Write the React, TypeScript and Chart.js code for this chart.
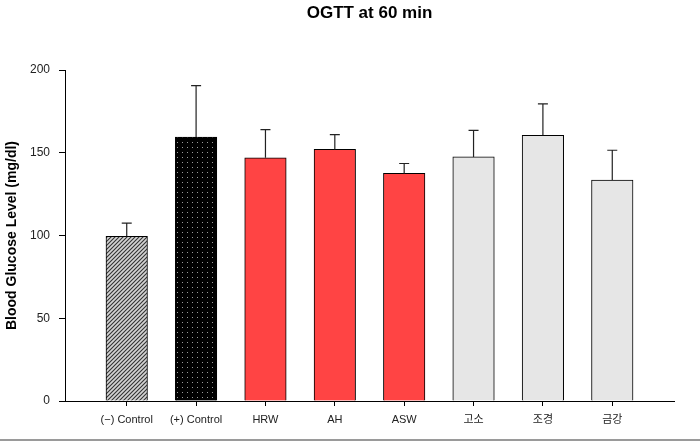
import React, { useEffect, useRef } from "react";
import { Chart, registerables } from "chart.js";

Chart.register(...registerables);

const TITLE = "OGTT at 60 min";
const Y_TITLE = "Blood Glucose Level (mg/dl)";
const CATEGORIES = ["(\u2212) Control", "(+) Control", "HRW", "AH", "ASW", "고소", "조경", "금강"];
const MEANS = [99.5, 159.5, 147, 152, 137.5, 147.5, 160.5, 133.5];
const ERRORS = [8, 31, 17, 9, 6, 16, 19, 18];
const Y_TICKS = [0, 50, 100, 150, 200];
const FILLS = ["hatch", "dots", "#FF4444", "#FF4444", "#FF4444", "#E6E6E6", "#E6E6E6", "#E6E6E6"];

const FONT = "'Liberation Sans', Arial, 'Noto Sans CJK KR', sans-serif";

function makeHatch(): CanvasPattern | string {
  const c = document.createElement("canvas");
  c.width = 4;
  c.height = 4;
  const g = c.getContext("2d");
  if (!g) return "#ccc";
  g.fillStyle = "#d4d4d4";
  g.fillRect(0, 0, 4, 4);
  g.strokeStyle = "#333";
  g.lineWidth = 1.1;
  g.beginPath();
  g.moveTo(-1, 5);
  g.lineTo(5, -1);
  g.moveTo(-1, 1);
  g.lineTo(1, -1);
  g.moveTo(3, 5);
  g.lineTo(5, 3);
  g.stroke();
  return g.createPattern(c, "repeat") || "#ccc";
}

function makeDots(): CanvasPattern | string {
  const c = document.createElement("canvas");
  c.width = 5;
  c.height = 5;
  const g = c.getContext("2d");
  if (!g) return "#000";
  g.fillStyle = "#000";
  g.fillRect(0, 0, 5, 5);
  g.fillStyle = "#9a9a9a";
  g.fillRect(2, 2, 1, 1);
  return g.createPattern(c, "repeat") || "#000";
}

const errorBarPlugin = {
  id: "errorBars",
  afterDatasetsDraw(chart: any) {
    const ctx = chart.ctx;
    const meta = chart.getDatasetMeta(0);
    const yScale = chart.scales.y;
    ctx.save();
    ctx.strokeStyle = "#222";
    ctx.lineWidth = 1.2;
    meta.data.forEach((el: any, i: number) => {
      const x = el.x;
      const yTop = el.y;
      const yCap = yScale.getPixelForValue(MEANS[i] + ERRORS[i]);
      ctx.beginPath();
      ctx.moveTo(x, yTop);
      ctx.lineTo(x, yCap);
      ctx.moveTo(x - 5, yCap);
      ctx.lineTo(x + 5, yCap);
      ctx.stroke();
    });
    ctx.restore();
  },
  afterDraw(chart: any) {
    const ctx = chart.ctx;
    ctx.save();
    ctx.fillStyle = "#9a9a9a";
    ctx.fillRect(0, 439, chart.width, 2);
    ctx.restore();
  },
};

export default function App() {
  const ref = useRef<HTMLCanvasElement>(null);

  useEffect(() => {
    if (!ref.current) return;
    const colors = FILLS.map((f) => (f === "hatch" ? makeHatch() : f === "dots" ? makeDots() : f));
    const chart = new Chart(ref.current, {
      type: "bar",
      data: {
        datasets: [
          {
            data: MEANS.map((v, i) => ({ x: i, y: v })),
            backgroundColor: colors as any,
            borderColor: "#000",
            borderWidth: 1,
            barThickness: 41.5,
          },
        ],
      },
      options: {
        animation: false,
        responsive: false,
        devicePixelRatio: 1,
        layout: { padding: { left: 0, right: 26, top: 0, bottom: 0 } },
        plugins: {
          legend: { display: false },
          tooltip: { enabled: false },
          title: {
            display: true,
            text: TITLE,
            fullSize: false,
            color: "#000",
            font: { family: FONT, size: 17, weight: "bold", lineHeight: 1.2 },
            padding: { top: 3, bottom: 46.6 },
          },
        },
        scales: {
          x: {
            type: "linear",
            offset: false,
            min: -0.89,
            max: 7.89,
            afterBuildTicks(scale: any) {
              scale.ticks = CATEGORIES.map((_, i) => ({ value: i }));
            },
            afterFit(scale: any) {
              scale.height = 40;
            },
            ticks: {
              autoSkip: false,
              maxRotation: 0,
              color: "#222",
              padding: 7,
              font: { family: FONT, size: 11 },
              callback: (v: any) => CATEGORIES[Number(v)] ?? "",
            },
            grid: { offset: false, drawOnChartArea: false, drawTicks: true, tickLength: 5, color: "#000" },
            border: { display: true, color: "#000", width: 1 },
          },
          y: {
            min: 0,
            max: 200,
            afterBuildTicks(scale: any) {
              scale.ticks = Y_TICKS.map((v) => ({ value: v }));
            },
            afterFit(scale: any) {
              scale.width = 65;
            },
            ticks: {
              color: "#222",
              padding: 9,
              font: { family: FONT, size: 12 },
            },
            grid: { drawOnChartArea: false, drawTicks: true, tickLength: 6, color: "#000" },
            border: { display: true, color: "#000", width: 1 },
            title: {
              display: true,
              text: Y_TITLE,
              color: "#000",
              font: { family: FONT, size: 14, weight: "bold" },
              padding: { top: 4, bottom: 4 },
            },
          },
        },
      },
      plugins: [errorBarPlugin],
    });
    return () => chart.destroy();
  }, []);

  return (
    <div style={{ position: "absolute", left: 0, top: 0, width: 700, height: 441, background: "#fff" }}>
      <canvas ref={ref} width={700} height={441} />
    </div>
  );
}
